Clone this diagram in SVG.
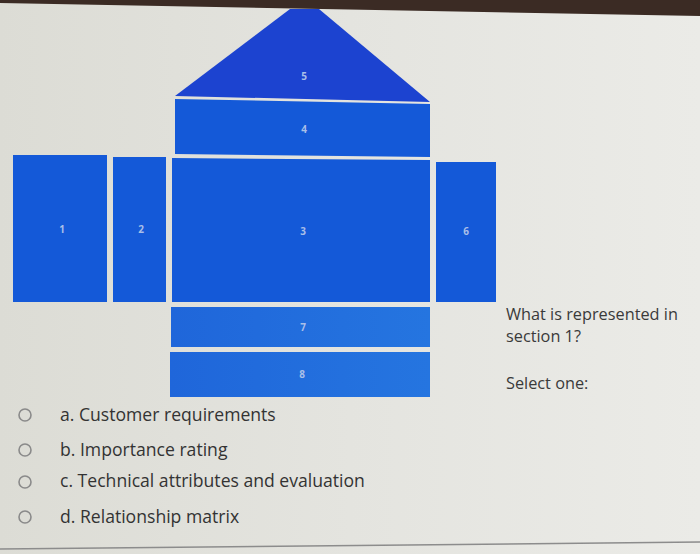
<svg xmlns="http://www.w3.org/2000/svg" width="700" height="554" viewBox="0 0 700 554">
<defs>
<linearGradient id="bg" x1="0" y1="0" x2="1" y2="0">
<stop offset="0" stop-color="#dcdcd5"/>
<stop offset="0.5" stop-color="#e4e4df"/>
<stop offset="1" stop-color="#ebebe7"/>
</linearGradient>
<linearGradient id="blueLow" x1="0" y1="0" x2="1" y2="0">
<stop offset="0" stop-color="#1f66da"/>
<stop offset="1" stop-color="#2575e0"/>
</linearGradient>
</defs>
<style>
.blk{fill:#1459d8}
.roof{fill:#1c43d0}
.low{fill:url(#blueLow)}
.num{font-family:"Open Sans","Liberation Sans",sans-serif;font-size:10px;font-weight:bold;fill:#a9bfe8;text-anchor:middle}
.q{font-family:"Open Sans","Liberation Sans",sans-serif;font-size:16.3px;fill:#3a3a3a}
.opt{font-family:"Open Sans","Liberation Sans",sans-serif;font-size:17.6px;fill:#333333}
.radio{fill:none;stroke:#8a8a8a;stroke-width:1.6}
</style>
<rect x="0" y="0" width="700" height="554" fill="url(#bg)"/>
<polygon points="0,0 700,0 700,16 0,3" fill="#3b2b24"/>
<g id="node-5"><polygon class="roof" points="290,9 319,9 430,102 175,96"/><text class="num" x="304" y="80">5</text></g>
<g id="node-4"><polygon class="blk" points="175,99 430,104 430,157 175,154"/><text class="num" x="304" y="133">4</text></g>
<g id="node-1"><rect class="blk" x="13" y="155" width="94" height="147"/><text class="num" x="62" y="233">1</text></g>
<g id="node-2"><rect class="blk" x="113" y="157" width="53" height="145"/><text class="num" x="141" y="233">2</text></g>
<g id="node-3"><polygon class="blk" points="172,158 430,160 430,302 172,302"/><text class="num" x="303" y="235">3</text></g>
<g id="node-6"><rect class="blk" x="436" y="162" width="60" height="140"/><text class="num" x="466" y="235">6</text></g>
<g id="node-7"><rect class="low" x="171" y="307" width="259" height="40"/><text class="num" x="303" y="331">7</text></g>
<g id="node-8"><rect class="low" x="170" y="352" width="260" height="45"/><text class="num" x="302" y="378">8</text></g>
<g id="connectors"/>
<g id="question">
<text class="q" x="506" y="320">What is represented in</text>
<text class="q" x="506" y="342">section 1?</text>
<text class="q" x="506" y="389">Select one:</text>
</g>
<g id="options">
<circle class="radio" cx="25" cy="415" r="6"/><text class="opt" x="60" y="421">a. Customer requirements</text>
<circle class="radio" cx="25" cy="450" r="6"/><text class="opt" x="60" y="456">b. Importance rating</text>
<circle class="radio" cx="25" cy="482" r="6"/><text class="opt" x="60" y="487">c. Technical attributes and evaluation</text>
<circle class="radio" cx="25" cy="517" r="6"/><text class="opt" x="60" y="523">d. Relationship matrix</text>
</g>
<line x1="0" y1="549" x2="700" y2="542" stroke="#8c8c8c" stroke-width="1.5"/>
</svg>
